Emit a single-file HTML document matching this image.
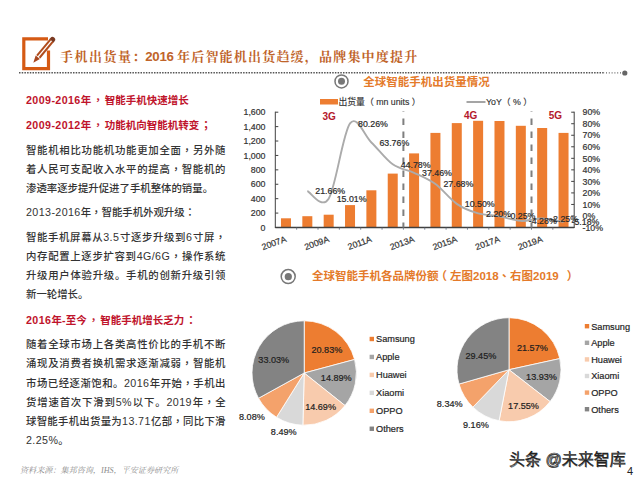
<!DOCTYPE html>
<html><head><meta charset="utf-8">
<style>
*{margin:0;padding:0;box-sizing:border-box}
html,body{width:640px;height:480px;overflow:hidden;background:#fff}
body{position:relative;font-family:"Liberation Sans","Noto Sans CJK SC",sans-serif}
.t{position:absolute;white-space:nowrap}
.ttl{font-family:"Liberation Serif","Noto Serif CJK SC",serif;font-weight:bold;font-size:13px;color:#C0642A;line-height:20px}
.ttl.dg{font-family:"Liberation Sans",sans-serif;font-size:13.3px;letter-spacing:-0.35px}
.pu{font-family:"Liberation Sans","Noto Sans CJK TC",sans-serif}
.red .pu{margin:0 1.5px}
.red{color:#C0142C;font-weight:bold;font-size:10.5px;left:26px;line-height:16px}
.body{color:#333;font-size:10.4px;left:26px;line-height:16px;font-weight:500}
.body.j{width:199.5px;text-align:justify;text-align-last:justify}
.body .d,.red .d{font-size:10.7px;letter-spacing:0.4px}
.ct{color:#E47A2A;font-weight:bold;font-size:10.5px;line-height:14px}
svg text{font-family:"Liberation Sans","Noto Sans CJK SC",sans-serif}
.ax{font-size:8.8px;fill:#333;stroke:#333;stroke-width:0.2px}
.dl{font-size:8.8px;fill:#2a2a2a;stroke:#2a2a2a;stroke-width:0.2px}
.g{font-size:10px;fill:#B4182C;font-weight:bold}
.lg{font-size:8.8px;fill:#333;stroke:#333;stroke-width:0.15px}
.tc{font-family:"Liberation Sans","Noto Sans CJK TC",sans-serif}
.pl{font-size:9.1px;fill:#1e1e1e;stroke:#1e1e1e;stroke-width:0.2px}
.pg{font-size:9.2px;fill:#262626;stroke:#262626;stroke-width:0.2px}
#foot{left:20px;top:464px;font-size:8.1px;color:#8c8c8c;font-style:italic;font-family:"Liberation Serif","Noto Serif CJK SC",serif}
#wm{left:509px;top:445.5px;font-size:16px;font-weight:300;color:#fff;-webkit-text-stroke:0.7px #222;font-family:"Liberation Sans","Noto Sans CJK SC",sans-serif;text-shadow:0.6px 0.6px 0.6px #666}
#pg{left:627px;top:464.5px;font-size:11px;color:#222}
</style></head><body>
<svg style="position:absolute;left:0;top:0" width="640" height="480" viewBox="0 0 640 480">
<path d="M48,38.8 H23.8 V68.6 H48.5 V50.5" fill="none" stroke="#D55A14" stroke-width="3.2"/>
<g transform="translate(33.3,62.7) rotate(-50.3)">
<path d="M0,0 L7,-2.7 L7,2.7 Z" fill="#A8461E"/>
<line x1="7.8" y1="-1.65" x2="29" y2="-1.65" stroke="#B04C1C" stroke-width="2"/>
<line x1="7.8" y1="1.65" x2="29" y2="1.65" stroke="#B04C1C" stroke-width="2"/>
<path d="M28.6,-2.7 H30 A2.7,2.7 0 0 1 30,2.7 H28.6 Z" fill="#7A3A22"/>
</g>
</svg>
<div class="t ttl" style="left:60px;top:46.8px;letter-spacing:1.5px">手机出货量：</div>
<div class="t ttl dg" style="left:145.3px;top:46.8px">2016</div>
<div class="t ttl" style="left:177px;top:46.8px;letter-spacing:1.2px">年后智能机出货趋缓，品牌集中度提升</div>
<svg style="position:absolute;left:0;top:0" width="640" height="480" viewBox="0 0 640 480">
<line x1="19" y1="72.8" x2="605" y2="72.8" stroke="#555" stroke-width="1.4" stroke-dasharray="1.5 1.2"/>
<line x1="606" y1="72.8" x2="622" y2="72.8" stroke="#666" stroke-width="1.2" stroke-dasharray="1 1.8"/>
<circle cx="624.8" cy="73" r="2.6" fill="#666"/>
<circle cx="341.5" cy="81.4" r="6.5" fill="none" stroke="#777" stroke-width="1.5"/>
<circle cx="341.5" cy="81.3" r="3.5" fill="#777"/>
<circle cx="288.2" cy="276.6" r="7" fill="none" stroke="#777" stroke-width="1.5"/>
<circle cx="288.3" cy="276.7" r="3.6" fill="#777"/>
<rect x="280.98" y="218.30" width="10.00" height="9.20" fill="#ED7D31"/>
<rect x="302.33" y="216.20" width="10.00" height="11.30" fill="#ED7D31"/>
<rect x="323.68" y="214.70" width="10.00" height="12.80" fill="#ED7D31"/>
<rect x="345.03" y="205.10" width="10.00" height="22.40" fill="#ED7D31"/>
<rect x="366.38" y="190.30" width="10.00" height="37.20" fill="#ED7D31"/>
<rect x="387.73" y="173.60" width="10.00" height="53.90" fill="#ED7D31"/>
<rect x="409.08" y="153.40" width="10.00" height="74.10" fill="#ED7D31"/>
<rect x="430.43" y="132.90" width="10.00" height="94.60" fill="#ED7D31"/>
<rect x="451.78" y="123.10" width="10.00" height="104.40" fill="#ED7D31"/>
<rect x="473.12" y="120.80" width="10.00" height="106.70" fill="#ED7D31"/>
<rect x="494.48" y="121.00" width="10.00" height="106.50" fill="#ED7D31"/>
<rect x="515.83" y="125.80" width="10.00" height="101.70" fill="#ED7D31"/>
<rect x="537.17" y="128.00" width="10.00" height="99.50" fill="#ED7D31"/>
<rect x="558.53" y="132.90" width="10.00" height="94.60" fill="#ED7D31"/>
<line x1="275.30" y1="111.70" x2="275.30" y2="228.00" stroke="#404040" stroke-width="1"/>
<line x1="275.30" y1="227.50" x2="278.30" y2="227.50" stroke="#404040" stroke-width="1"/>
<text x="265.50" y="230.70" text-anchor="end" class="ax">0</text>
<line x1="275.30" y1="213.09" x2="278.30" y2="213.09" stroke="#404040" stroke-width="1"/>
<text x="265.50" y="216.29" text-anchor="end" class="ax">200</text>
<line x1="275.30" y1="198.68" x2="278.30" y2="198.68" stroke="#404040" stroke-width="1"/>
<text x="265.50" y="201.88" text-anchor="end" class="ax">400</text>
<line x1="275.30" y1="184.26" x2="278.30" y2="184.26" stroke="#404040" stroke-width="1"/>
<text x="265.50" y="187.46" text-anchor="end" class="ax">600</text>
<line x1="275.30" y1="169.85" x2="278.30" y2="169.85" stroke="#404040" stroke-width="1"/>
<text x="265.50" y="173.05" text-anchor="end" class="ax">800</text>
<line x1="275.30" y1="155.44" x2="278.30" y2="155.44" stroke="#404040" stroke-width="1"/>
<text x="265.50" y="158.64" text-anchor="end" class="ax">1,000</text>
<line x1="275.30" y1="141.03" x2="278.30" y2="141.03" stroke="#404040" stroke-width="1"/>
<text x="265.50" y="144.22" text-anchor="end" class="ax">1,200</text>
<line x1="275.30" y1="126.61" x2="278.30" y2="126.61" stroke="#404040" stroke-width="1"/>
<text x="265.50" y="129.81" text-anchor="end" class="ax">1,400</text>
<line x1="275.30" y1="112.20" x2="278.30" y2="112.20" stroke="#404040" stroke-width="1"/>
<text x="265.50" y="115.40" text-anchor="end" class="ax">1,600</text>
<line x1="574.20" y1="111.70" x2="574.20" y2="228.00" stroke="#404040" stroke-width="1"/>
<line x1="571.20" y1="227.50" x2="574.20" y2="227.50" stroke="#404040" stroke-width="1"/>
<text x="582.50" y="230.70" class="ax">-10%</text>
<line x1="571.20" y1="215.97" x2="574.20" y2="215.97" stroke="#404040" stroke-width="1"/>
<text x="582.50" y="219.17" class="ax">0%</text>
<line x1="571.20" y1="204.44" x2="574.20" y2="204.44" stroke="#404040" stroke-width="1"/>
<text x="582.50" y="207.64" class="ax">10%</text>
<line x1="571.20" y1="192.91" x2="574.20" y2="192.91" stroke="#404040" stroke-width="1"/>
<text x="582.50" y="196.11" class="ax">20%</text>
<line x1="571.20" y1="181.38" x2="574.20" y2="181.38" stroke="#404040" stroke-width="1"/>
<text x="582.50" y="184.58" class="ax">30%</text>
<line x1="571.20" y1="169.85" x2="574.20" y2="169.85" stroke="#404040" stroke-width="1"/>
<text x="582.50" y="173.05" class="ax">40%</text>
<line x1="571.20" y1="158.32" x2="574.20" y2="158.32" stroke="#404040" stroke-width="1"/>
<text x="582.50" y="161.52" class="ax">50%</text>
<line x1="571.20" y1="146.79" x2="574.20" y2="146.79" stroke="#404040" stroke-width="1"/>
<text x="582.50" y="149.99" class="ax">60%</text>
<line x1="571.20" y1="135.26" x2="574.20" y2="135.26" stroke="#404040" stroke-width="1"/>
<text x="582.50" y="138.46" class="ax">70%</text>
<line x1="571.20" y1="123.73" x2="574.20" y2="123.73" stroke="#404040" stroke-width="1"/>
<text x="582.50" y="126.93" class="ax">80%</text>
<line x1="571.20" y1="112.20" x2="574.20" y2="112.20" stroke="#404040" stroke-width="1"/>
<text x="582.50" y="115.40" class="ax">90%</text>
<line x1="275.30" y1="227.50" x2="574.20" y2="227.50" stroke="#404040" stroke-width="1.3"/>
<line x1="296.65" y1="227.50" x2="296.65" y2="229.70" stroke="#5A6A80" stroke-width="0.8"/>
<line x1="318.00" y1="227.50" x2="318.00" y2="229.70" stroke="#5A6A80" stroke-width="0.8"/>
<line x1="339.35" y1="227.50" x2="339.35" y2="229.70" stroke="#5A6A80" stroke-width="0.8"/>
<line x1="360.70" y1="227.50" x2="360.70" y2="229.70" stroke="#5A6A80" stroke-width="0.8"/>
<line x1="382.05" y1="227.50" x2="382.05" y2="229.70" stroke="#5A6A80" stroke-width="0.8"/>
<line x1="403.40" y1="227.50" x2="403.40" y2="229.70" stroke="#5A6A80" stroke-width="0.8"/>
<line x1="424.75" y1="227.50" x2="424.75" y2="229.70" stroke="#5A6A80" stroke-width="0.8"/>
<line x1="446.10" y1="227.50" x2="446.10" y2="229.70" stroke="#5A6A80" stroke-width="0.8"/>
<line x1="467.45" y1="227.50" x2="467.45" y2="229.70" stroke="#5A6A80" stroke-width="0.8"/>
<line x1="488.80" y1="227.50" x2="488.80" y2="229.70" stroke="#5A6A80" stroke-width="0.8"/>
<line x1="510.15" y1="227.50" x2="510.15" y2="229.70" stroke="#5A6A80" stroke-width="0.8"/>
<line x1="531.50" y1="227.50" x2="531.50" y2="229.70" stroke="#5A6A80" stroke-width="0.8"/>
<line x1="552.85" y1="227.50" x2="552.85" y2="229.70" stroke="#5A6A80" stroke-width="0.8"/>
<text transform="translate(286.98,241.50) rotate(-20)" text-anchor="end" class="ax">2007A</text>
<text transform="translate(329.68,241.50) rotate(-20)" text-anchor="end" class="ax">2009A</text>
<text transform="translate(372.38,241.50) rotate(-20)" text-anchor="end" class="ax">2011A</text>
<text transform="translate(415.08,241.50) rotate(-20)" text-anchor="end" class="ax">2013A</text>
<text transform="translate(457.78,241.50) rotate(-20)" text-anchor="end" class="ax">2015A</text>
<text transform="translate(500.48,241.50) rotate(-20)" text-anchor="end" class="ax">2017A</text>
<text transform="translate(543.17,241.50) rotate(-20)" text-anchor="end" class="ax">2019A</text>
<line x1="403.40" y1="111.5" x2="403.40" y2="227.50" stroke="#7F7F7F" stroke-width="2" stroke-dasharray="6.5 6.5" stroke-dashoffset="6"/>
<line x1="531.50" y1="111.5" x2="531.50" y2="227.50" stroke="#7F7F7F" stroke-width="2" stroke-dasharray="6.5 6.5" stroke-dashoffset="6"/>
<path d="M307.33,191.00 C310.88,192.27 321.56,209.92 328.68,198.66 C335.79,187.40 342.91,132.80 350.03,123.43 C357.14,114.06 364.26,135.64 371.38,142.45 C378.49,149.27 385.61,159.28 392.73,164.34 C399.84,169.39 406.96,169.49 414.08,172.78 C421.19,176.06 428.31,178.87 435.43,184.05 C442.54,189.24 449.66,198.97 456.78,203.86 C463.89,208.76 471.01,211.37 478.12,213.43 C485.24,215.50 492.36,215.01 499.48,216.26 C506.59,217.50 513.71,220.52 520.83,220.90 C527.94,221.29 535.06,218.39 542.17,218.56 C549.29,218.74 559.97,221.38 563.53,221.94" fill="none" stroke="#ABABAB" stroke-width="1.9"/>
<text x="315.33" y="194.20" class="dl">21.66%</text>
<text x="336.68" y="201.86" class="dl">15.01%</text>
<text x="358.03" y="126.63" class="dl">80.26%</text>
<text x="379.38" y="145.65" class="dl">63.76%</text>
<text x="400.73" y="167.54" class="dl">44.78%</text>
<text x="422.08" y="175.98" class="dl">37.46%</text>
<text x="443.43" y="187.25" class="dl">27.68%</text>
<text x="464.78" y="207.06" class="dl">10.50%</text>
<text x="486.12" y="216.63" class="dl">2.20%</text>
<text x="507.48" y="219.46" class="dl">-0.25%</text>
<text x="528.83" y="224.10" class="dl">-4.28%</text>
<text x="550.17" y="221.76" class="dl">-2.25%</text>
<text x="571.53" y="225.14" class="dl">-5.18%</text>
<text x="322.5" y="120" class="g">3G</text>
<text x="464" y="118.5" class="g">4G</text>
<text x="548.8" y="119" class="g">5G</text>
<rect x="320" y="99" width="18" height="5.5" fill="#ED7D31"/>
<text x="338.5" y="105.3" class="lg">出货量<tspan class="tc">（</tspan> mn units <tspan class="tc">）</tspan></text>
<line x1="466.5" y1="102" x2="485.5" y2="102" stroke="#A5A5A5" stroke-width="2"/>
<text x="486" y="105.3" class="lg">YoY<tspan class="tc">（</tspan> % <tspan class="tc">）</tspan></text>
<path d="M304.20,373.00 L304.20,320.80 A52.2,52.2 0 0 1 354.62,359.47 Z" fill="#ED7D31" stroke="#fff" stroke-width="0.8"/>
<path d="M304.20,373.00 L354.62,359.47 A52.2,52.2 0 0 1 345.01,405.55 Z" fill="#A5A5A5" stroke="#fff" stroke-width="0.8"/>
<path d="M304.20,373.00 L345.01,405.55 A52.2,52.2 0 0 1 302.87,425.18 Z" fill="#F8CBAD" stroke="#fff" stroke-width="0.8"/>
<path d="M304.20,373.00 L302.87,425.18 A52.2,52.2 0 0 1 276.52,417.26 Z" fill="#D9D9D9" stroke="#fff" stroke-width="0.8"/>
<path d="M304.20,373.00 L276.52,417.26 A52.2,52.2 0 0 1 258.50,398.22 Z" fill="#F4A26B" stroke="#fff" stroke-width="0.8"/>
<path d="M304.20,373.00 L258.50,398.22 A52.2,52.2 0 0 1 304.20,320.80 Z" fill="#838383" stroke="#fff" stroke-width="0.8"/>
<path d="M509.00,369.70 L509.00,317.70 A52,52 0 0 1 559.80,358.58 Z" fill="#ED7D31" stroke="#fff" stroke-width="0.8"/>
<path d="M509.00,369.70 L559.80,358.58 A52,52 0 0 1 550.09,401.57 Z" fill="#A5A5A5" stroke="#fff" stroke-width="0.8"/>
<path d="M509.00,369.70 L550.09,401.57 A52,52 0 0 1 499.10,420.75 Z" fill="#F8CBAD" stroke="#fff" stroke-width="0.8"/>
<path d="M509.00,369.70 L499.10,420.75 A52,52 0 0 1 472.91,407.13 Z" fill="#D9D9D9" stroke="#fff" stroke-width="0.8"/>
<path d="M509.00,369.70 L472.91,407.13 A52,52 0 0 1 459.02,384.05 Z" fill="#F4A26B" stroke="#fff" stroke-width="0.8"/>
<path d="M509.00,369.70 L459.02,384.05 A52,52 0 0 1 509.00,317.70 Z" fill="#838383" stroke="#fff" stroke-width="0.8"/>
<text x="326.90" y="352.60" text-anchor="middle" class="pl">20.83%</text>
<text x="336.25" y="381.10" text-anchor="middle" class="pl">14.89%</text>
<text x="320.60" y="409.85" text-anchor="middle" class="pl">14.69%</text>
<text x="283.75" y="434.85" text-anchor="middle" class="pl">8.49%</text>
<text x="251.90" y="419.85" text-anchor="middle" class="pl">8.08%</text>
<text x="273.75" y="363.00" text-anchor="middle" class="pl">33.03%</text>
<text x="532.40" y="351.20" text-anchor="middle" class="pl">21.57%</text>
<text x="541.50" y="379.70" text-anchor="middle" class="pl">13.93%</text>
<text x="523.50" y="408.60" text-anchor="middle" class="pl">17.55%</text>
<text x="475.90" y="428.30" text-anchor="middle" class="pl">9.16%</text>
<text x="449.70" y="406.90" text-anchor="middle" class="pl">8.34%</text>
<text x="480.90" y="359.40" text-anchor="middle" class="pl">29.45%</text>
<rect x="369.60" y="336.80" width="4.4" height="4.4" fill="#ED7D31"/>
<text x="376.00" y="342.30" class="pg">Samsung</text>
<rect x="369.60" y="354.75" width="4.4" height="4.4" fill="#A5A5A5"/>
<text x="376.00" y="360.25" class="pg">Apple</text>
<rect x="369.60" y="372.70" width="4.4" height="4.4" fill="#F8CBAD"/>
<text x="376.00" y="378.20" class="pg">Huawei</text>
<rect x="369.60" y="390.65" width="4.4" height="4.4" fill="#D9D9D9"/>
<text x="376.00" y="396.15" class="pg">Xiaomi</text>
<rect x="369.60" y="408.60" width="4.4" height="4.4" fill="#F4A26B"/>
<text x="376.00" y="414.10" class="pg">OPPO</text>
<rect x="369.60" y="426.55" width="4.4" height="4.4" fill="#838383"/>
<text x="376.00" y="432.05" class="pg">Others</text>
<rect x="584.80" y="324.00" width="4.4" height="4.4" fill="#ED7D31"/>
<text x="591.20" y="329.50" class="pg">Samsung</text>
<rect x="584.80" y="340.60" width="4.4" height="4.4" fill="#A5A5A5"/>
<text x="591.20" y="346.10" class="pg">Apple</text>
<rect x="584.80" y="357.20" width="4.4" height="4.4" fill="#F8CBAD"/>
<text x="591.20" y="362.70" class="pg">Huawei</text>
<rect x="584.80" y="373.80" width="4.4" height="4.4" fill="#D9D9D9"/>
<text x="591.20" y="379.30" class="pg">Xiaomi</text>
<rect x="584.80" y="390.40" width="4.4" height="4.4" fill="#F4A26B"/>
<text x="591.20" y="395.90" class="pg">OPPO</text>
<rect x="584.80" y="407.00" width="4.4" height="4.4" fill="#838383"/>
<text x="591.20" y="412.50" class="pg">Others</text>
</svg>
<div class="t ct" style="left:363.3px;top:74.5px;font-size:11.5px">全球智能手机出货量情况</div>
<div class="t ct" style="left:312px;top:269.3px;font-size:11.5px">全球智能手机各品牌份额<span class="pu" style="margin-left:-3px;margin-right:3px">（</span>左图2018<span class="pu">、</span>右图2019<span class="pu" style="margin-left:8px">）</span></div>
<div class="t red" style="top:92px"><span class="d">2009-2016</span>年<span class="pu">，</span>智能手机快速增长</div>
<div class="t red" style="top:117.2px"><span class="d">2009-2012</span>年<span class="pu">，</span>功能机向智能机转变<span class="pu">；</span></div>
<div class="t body j" style="top:142.80px">智能机相比功能机功能更加全面<span class="pu">，</span>另外随</div>
<div class="t body j" style="top:161.95px">着人民可支配收入水平的提高<span class="pu">，</span>智能机的</div>
<div class="t body" style="top:181.10px">渗透率逐步提升促进了手机整体的销量。</div>
<div class="t body" style="top:204.20px"><span class="d">2013-2016</span>年<span class="pu">，</span>智能手机外观升级<span class="pu">：</span></div>
<div class="t body j" style="top:229.45px">智能手机屏幕从<span class="d">3.5</span>寸逐步升级到<span class="d">6</span>寸屏<span class="pu">，</span></div>
<div class="t body j" style="top:247.80px">内存配置上逐步扩容到<span class="d">4G/6G</span><span class="pu">，</span>操作系统</div>
<div class="t body j" style="top:267.80px">升级用户体验升级。手机的创新升级引领</div>
<div class="t body" style="top:287.40px">新一轮增长。</div>
<div class="t red" style="top:312.3px"><span class="d">2016</span>年<span class="d">-</span>至今<span class="pu">，</span>智能手机增长乏力<span class="pu">：</span></div>
<div class="t body j" style="top:337.10px">随着全球市场上各类高性价比的手机不断</div>
<div class="t body j" style="top:355.95px">涌现及消费者换机需求逐渐减弱<span class="pu">，</span>智能机</div>
<div class="t body j" style="top:375.30px">市场已经逐渐饱和。<span class="d">2016</span>年开始<span class="pu">，</span>手机出</div>
<div class="t body j" style="top:393.90px">货增速首次下滑到<span class="d">5%</span>以下。<span class="d">2019</span>年<span class="pu">，</span>全</div>
<div class="t body j" style="top:413.20px">球智能手机出货量为<span class="d">13.71</span>亿部<span class="pu">，</span>同比下滑</div>
<div class="t body" style="top:431.70px"><span class="d">2.25%</span>。</div>
<div class="t" id="foot">资料来源：集邦咨询，IHS，平安证券研究所</div>
<div class="t" id="wm">头条 @未来智库</div>
<div class="t" id="pg">4</div>
</body></html>
